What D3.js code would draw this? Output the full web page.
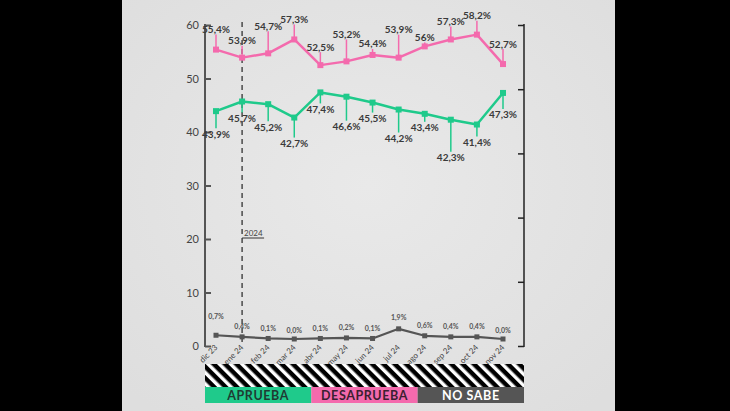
<!DOCTYPE html>
<html>
<head>
<meta charset="utf-8">
<script src="https://cdn.jsdelivr.net/npm/d3@7"></script>
<style>
  html, body { margin: 0; padding: 0; background: #000; }
  svg { display: block; }
</style>
</head>
<body>
<svg id="chart" width="730" height="411"></svg>
<script>
// data
const months = ["dic 23", "ene 24", "feb 24", "mar 24", "abr 24", "may 24",
  "jun 24", "jul 24", "ago 24", "sep 24", "oct 24", "nov 24"];
const desaprueba = [55.4, 53.9, 54.7, 57.3, 52.5, 53.2, 54.4, 53.9, 56, 57.3, 58.2, 52.7];
const aprueba = [43.9, 45.7, 45.2, 42.7, 47.4, 46.6, 45.5, 44.2, 43.4, 42.3, 41.4, 47.3];
const noSabe = [0.7, 0.4, 0.1, 0.0, 0.1, 0.2, 0.1, 1.9, 0.6, 0.4, 0.4, 0.0];
const yTicks = [0, 10, 20, 30, 40, 50, 60];
const legendItems = ["APRUEBA", "DESAPRUEBA", "NO SABE"];

// label leader lengths (px)
const pinkLeader = [20, 17, 27, 20, 18, 27, 11, 28, 9, 18, 19, 20];
const greenLeader = [23, 17, 23, 26, 17, 30, 16, 29, 14, 38, 18, 22];
const grayLift = [16, 8, 7, 6, 7, 8, 7, 9, 8, 8, 8, 6];

const green = "#1fca8b";
const pink = "#f46aad";
const gray = "#555555";
const ink = "#3a3a3a";
const fmt = v => String(v).replace(".", ",") + "%";
const fmt1 = v => v.toFixed(1).replace(".", ",") + "%";

const svg = d3.select("#chart");

// panel
const grad = svg.append("defs").append("radialGradient")
    .attr("id", "bg").attr("cx", "50%").attr("cy", "45%").attr("r", "70%");
grad.append("stop").attr("offset", "0%").attr("stop-color", "#e9e9e9");
grad.append("stop").attr("offset", "100%").attr("stop-color", "#dedede");
svg.append("rect")
    .attr("x", 122).attr("y", 0)
    .attr("width", 493).attr("height", 411)
    .attr("fill", "url(#bg)");

const x = d3.scalePoint().domain(months).range([216, 503]);
const y = d3.scaleLinear().domain([0, 60]).range([346, 25]);
const yRight = d3.scaleLinear().domain([0, 5]).range([346, 25]);

// left axis
const left = svg.append("g")
    .attr("transform", "translate(205,0)")
    .call(d3.axisRight(y).tickValues(yTicks).tickSize(6).tickFormat(""));
left.select(".domain").remove();
left.selectAll("line").attr("stroke", gray).attr("stroke-width", 2);
svg.append("line")
    .attr("x1", 205).attr("x2", 205)
    .attr("y1", y(60) - 1).attr("y2", y(0) + 1)
    .attr("stroke", gray).attr("stroke-width", 2);
svg.append("g").selectAll("text")
    .data(yTicks)
    .join("text")
    .attr("x", 199)
    .attr("y", d => y(d) + 4)
    .attr("text-anchor", "end")
    .attr("font-family", "Lato, sans-serif")
    .attr("font-size", 11)
    .attr("fill", "#444")
    .text(d => d);

// right axis
const right = svg.append("g")
    .attr("transform", "translate(524,0)")
    .call(d3.axisLeft(yRight).ticks(5).tickSize(6).tickFormat(""));
right.select(".domain").remove();
right.selectAll("line").attr("stroke", "#222").attr("stroke-width", 1.5);
svg.append("line")
    .attr("x1", 524).attr("x2", 524)
    .attr("y1", yRight(5) - 1).attr("y2", yRight(0) + 1)
    .attr("stroke", "#222").attr("stroke-width", 1.5);

// 2024 marker
svg.append("line")
    .attr("x1", x("ene 24")).attr("x2", x("ene 24"))
    .attr("y1", 22).attr("y2", y(0))
    .attr("stroke", "#333").attr("stroke-width", 1.3)
    .attr("stroke-dasharray", "5,4");
svg.append("line")
    .attr("x1", x("ene 24")).attr("x2", x("ene 24") + 22)
    .attr("y1", 238).attr("y2", 238)
    .attr("stroke", "#333").attr("stroke-width", 1);
svg.append("text")
    .attr("x", x("ene 24") + 2).attr("y", 236)
    .attr("font-family", "Lato, sans-serif")
    .attr("font-size", 8)
    .attr("fill", "#444")
    .text("2024");

// x labels
svg.append("g").selectAll("text")
    .data(months)
    .join("text")
    .attr("transform", d => `translate(${x(d) + 2},${348}) rotate(-45)`)
    .attr("text-anchor", "end")
    .attr("font-family", "Lato, sans-serif")
    .attr("font-size", 8)
    .attr("fill", "#444")
    .text(d => d);

function drawSeries(values, color, width, size) {
  const g = svg.append("g");
  const line = d3.line().x((d, i) => x(months[i])).y(d => y(d));
  g.append("path")
      .datum(values)
      .attr("d", line)
      .attr("fill", "none")
      .attr("stroke", color)
      .attr("stroke-width", width)
      .attr("stroke-linejoin", "round");
  g.selectAll("rect")
      .data(values)
      .join("rect")
      .attr("x", (d, i) => x(months[i]) - size / 2)
      .attr("y", d => y(d) - size / 2)
      .attr("width", size).attr("height", size)
      .attr("fill", color);
  return g;
}

// leaders
svg.append("g").selectAll("line")
    .data(desaprueba)
    .join("line")
    .attr("x1", (d, i) => x(months[i])).attr("x2", (d, i) => x(months[i]))
    .attr("y1", d => y(d))
    .attr("y2", (d, i) => y(d) - pinkLeader[i] + 5)
    .attr("stroke", pink).attr("stroke-width", 1.5);
svg.append("g").selectAll("line")
    .data(aprueba)
    .join("line")
    .attr("x1", (d, i) => x(months[i])).attr("x2", (d, i) => x(months[i]))
    .attr("y1", d => y(d))
    .attr("y2", (d, i) => y(d) + greenLeader[i] - 6)
    .attr("stroke", green).attr("stroke-width", 1.5);

drawSeries(desaprueba, pink, 2.5, 6);
drawSeries(aprueba, green, 2.5, 6);
drawSeries(noSabe, gray, 2.2, 5).attr("transform", "translate(0,-7)");

// value labels
svg.append("g").selectAll("text")
    .data(desaprueba)
    .join("text")
    .attr("x", (d, i) => x(months[i]))
    .attr("y", (d, i) => y(d) - pinkLeader[i] + 3.5)
    .attr("text-anchor", "middle")
    .attr("font-family", "Lato, sans-serif")
    .attr("font-weight", 700)
    .attr("font-size", 10)
    .attr("fill", ink)
    .text(fmt);
svg.append("g").selectAll("text")
    .data(aprueba)
    .join("text")
    .attr("x", (d, i) => x(months[i]))
    .attr("y", (d, i) => y(d) + greenLeader[i] + 3.5)
    .attr("text-anchor", "middle")
    .attr("font-family", "Lato, sans-serif")
    .attr("font-weight", 700)
    .attr("font-size", 10)
    .attr("fill", ink)
    .text(fmt);
svg.append("g").selectAll("text")
    .data(noSabe)
    .join("text")
    .attr("x", (d, i) => x(months[i]))
    .attr("y", (d, i) => y(d) - 7 - grayLift[i])
    .attr("text-anchor", "middle")
    .attr("font-family", "Lato, sans-serif")
    .attr("font-weight", 700)
    .attr("font-size", 7)
    .attr("fill", "#555")
    .text(fmt1);

// legend
const pat = svg.select("defs").append("pattern")
    .attr("id", "stripes")
    .attr("width", 8).attr("height", 8)
    .attr("patternUnits", "userSpaceOnUse")
    .attr("patternTransform", "rotate(-45)");
pat.append("rect").attr("width", 8).attr("height", 8).attr("fill", "#000");
pat.append("rect").attr("width", 3.5).attr("height", 8).attr("fill", "#fff");

const legX = d3.scaleBand().domain(legendItems).range([205, 524]);
svg.append("rect")
    .attr("x", 205).attr("y", 364)
    .attr("width", 319).attr("height", 23)
    .attr("fill", "url(#stripes)");
const leg = svg.append("g").selectAll("g")
    .data(legendItems)
    .join("g");
leg.append("rect")
    .attr("x", d => legX(d)).attr("y", 387)
    .attr("width", legX.bandwidth()).attr("height", 16)
    .attr("fill", (d, i) => [green, pink, gray][i]);
leg.append("text")
    .attr("x", d => legX(d) + legX.bandwidth() / 2)
    .attr("y", 400)
    .attr("text-anchor", "middle")
    .attr("font-family", "Lato, sans-serif")
    .attr("font-weight", 700)
    .attr("font-size", 12.5)
    .attr("letter-spacing", 0.6)
    .attr("fill", (d, i) => ["#1f3b33", "#3b1f31", "#ffffff"][i])
    .text(d => d);
</script>
</body>
</html>
